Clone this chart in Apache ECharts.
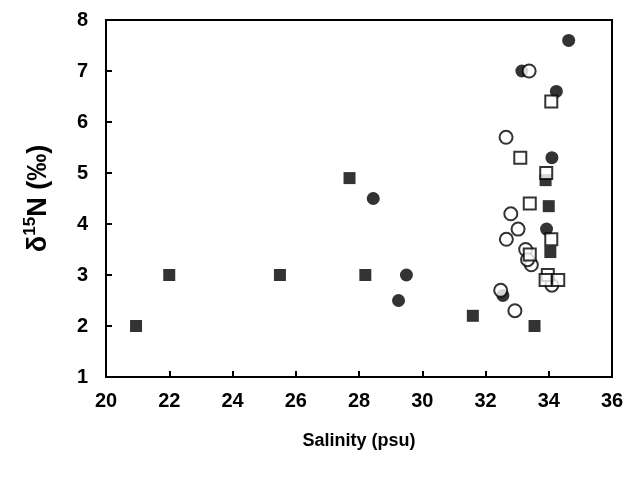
<!DOCTYPE html><html><head><meta charset="utf-8"><script src="https://cdn.jsdelivr.net/npm/echarts@6/dist/echarts.min.js"></script></head><body style="margin:0"><div id="c" style="width:632px;height:481px"></div><script>
const filledSquares=[[20.95,2],[22,3],[25.5,3],[27.7,4.9],[28.2,3],[31.6,2.2],[33.55,2],[34.0,4.35],[33.9,4.86],[34.05,3.45]];
const filledCircles=[[28.45,4.5],[29.5,3],[29.25,2.5],[32.55,2.6],[34.63,7.6],[33.15,7.0],[34.24,6.6],[34.1,5.3],[33.93,3.9]];
const openCircles=[[33.38,7.0],[32.65,5.7],[32.8,4.2],[33.03,3.9],[32.66,3.7],[33.27,3.5],[33.45,3.2],[33.33,3.3],[32.48,2.7],[32.93,2.3],[34.1,2.8]];
const openSquares=[[34.08,6.4],[33.1,5.3],[33.92,5.0],[33.4,4.4],[34.08,3.7],[33.4,3.4],[33.97,3.0],[33.9,2.9],[34.3,2.9]];
const F='Liberation Sans';
function s(data,sym,filled,z){return {type:'scatter',data,symbol:sym,symbolSize:sym==='rect'?12:13,z,
 itemStyle:filled?{color:'#000'}:{color:'#fff',borderColor:'#000',borderWidth:2}};}
const ch=echarts.init(document.getElementById('c'));
ch.setOption({animation:false,
grid:{left:106,right:20,top:20,bottom:104,show:true,borderColor:'#000',borderWidth:2},
xAxis:{min:20,max:36,interval:2,name:'Salinity (psu)',nameLocation:'middle',nameGap:55,
 nameTextStyle:{fontFamily:F,fontWeight:'bold',fontSize:18,color:'#000'},
 axisLine:{lineStyle:{color:'#000',width:2}},axisTick:{inside:true,length:6,lineStyle:{color:'#000',width:2}},
 axisLabel:{fontFamily:F,fontWeight:'bold',fontSize:20,color:'#000',margin:14},splitLine:{show:false}},
yAxis:{min:1,max:8,interval:1,name:'{a|δ}{b|15}{a|N (‰)}',nameLocation:'middle',nameGap:52,
 nameTextStyle:{rich:{a:{fontFamily:F,fontWeight:'bold',fontSize:27,color:'#000',lineHeight:30},b:{fontFamily:F,fontWeight:'bold',fontSize:17,color:'#000',lineHeight:30,padding:[0,0,18,0]}}},
 axisLine:{lineStyle:{color:'#000',width:2}},axisTick:{inside:true,length:6,lineStyle:{color:'#000',width:2}},
 axisLabel:{fontFamily:F,fontWeight:'bold',fontSize:20,color:'#000',margin:18},splitLine:{show:false}},
series:[s(filledSquares,'rect',true,2),s(filledCircles,'circle',true,2),s(openCircles,'circle',false,3),s(openSquares,'rect',false,4)]});
</script></body></html>
